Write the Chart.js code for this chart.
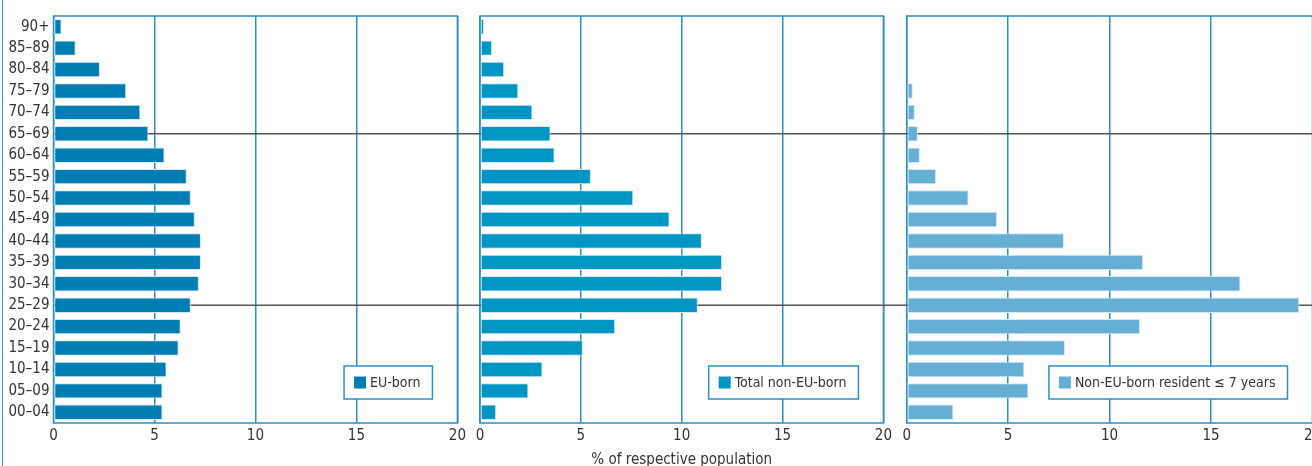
<!DOCTYPE html>
<html>
<head>
<meta charset="utf-8">
<script src="https://cdn.jsdelivr.net/npm/chart.js@4.4.1/dist/chart.umd.min.js"></script>
<style>
  body { margin: 0; background: #fff; overflow: hidden; }
  #wrap { position: relative; width: 1312px; height: 466px; overflow: hidden; }
  #frame { position: absolute; left: 2px; top: 0; bottom: 0; width: 0; border-left: 1.5px solid #2a8fc3; }
  .panel { position: absolute; top: 0; height: 466px; }
</style>
</head>
<body>
<div id="wrap">
  <div id="frame"></div>
  <div class="panel" style="left:0;width:470px"><canvas id="euChart"></canvas></div>
  <div class="panel" style="left:470px;width:426px"><canvas id="nonEuChart"></canvas></div>
  <div class="panel" style="left:896px;width:440px"><canvas id="recentChart"></canvas></div>
</div>
<script>
const ageGroups = ['90+', '85–89', '80–84', '75–79', '70–74', '65–69', '60–64', '55–59', '50–54', '45–49',
                   '40–44', '35–39', '30–34', '25–29', '20–24', '15–19', '10–14', '05–09', '00–04'];
const euBorn = [0.4, 1.1, 2.3, 3.6, 4.3, 4.7, 5.5, 6.6, 6.8, 7.0, 7.3, 7.3, 7.2, 6.8, 6.3, 6.2, 5.6, 5.4, 5.4];
const nonEuBorn = [0.2, 0.6, 1.2, 1.9, 2.6, 3.5, 3.7, 5.5, 7.6, 9.4, 11.0, 12.0, 12.0, 10.8, 6.7, 5.1, 3.1, 2.4, 0.8];
const recentNonEuBorn = [0, 0.05, 0.05, 0.3, 0.4, 0.55, 0.65, 1.45, 3.05, 4.45, 7.75, 11.65, 16.45, 19.35, 11.5, 7.8, 5.8, 6.0, 2.3];
const seriesNames = ['EU-born', 'Total non-EU-born', 'Non-EU-born resident ≤ 7 years'];
const markedGroups = ['65–69', '25–29'];
const xMax = 20;
const xStep = 5;
const axisTitle = '% of respective population';

const FONT = '"Liberation Sans Narrow", "DejaVu Sans Condensed", "Arial Narrow", sans-serif';
const TEXT = '#333333';
const BLUE = '#2a8fc3';

// frame, dark marker lines and the boxed legend inside the plot
const panelDecor = {
    id: 'panelDecor',
    beforeDatasetsDraw(chart, args, opts) {
        const { ctx, chartArea: a, scales: { y } } = chart;
        ctx.save();
        ctx.strokeStyle = BLUE;
        ctx.lineWidth = 1.5;
        ctx.strokeRect(a.left, a.top, a.right - a.left, a.bottom - a.top);
        ctx.strokeStyle = '#555555';
        markedGroups.forEach(g => {
            const py = y.getPixelForValue(ageGroups.indexOf(g));
            ctx.beginPath();
            ctx.moveTo(opts.fromArea ? a.left : 0, py);
            ctx.lineTo(chart.width, py);
            ctx.stroke();
        });
        ctx.restore();
    },
    afterDraw(chart) {
        const { ctx, chartArea: a } = chart;
        const ds = chart.data.datasets[0];
        ctx.save();
        ctx.font = `14px ${FONT}`;
        const tw = ctx.measureText(ds.label).width;
        const w = 10 + 12 + 4 + tw + 12, h = 33;
        const x = a.right - 25 - w, top = a.bottom - 24 - h;
        ctx.fillStyle = '#ffffff';
        ctx.fillRect(x, top, w, h);
        ctx.strokeStyle = BLUE;
        ctx.lineWidth = 1.5;
        ctx.strokeRect(x, top, w, h);
        ctx.fillStyle = ds.backgroundColor;
        ctx.fillRect(x + 10, top + 10.5, 12, 12);
        ctx.fillStyle = TEXT;
        ctx.textBaseline = 'middle';
        ctx.fillText(ds.label, x + 26, top + h / 2 + 0.5);
        ctx.restore();
    },
};

function initPanel(canvasId, label, values, color, cfg) {
    const ctx = document.getElementById(canvasId);
    if (!ctx) return;

    return new Chart(ctx, {
        type: 'bar',
        data: {
            labels: ageGroups,
            datasets: [{
                label,
                data: values,
                backgroundColor: color,
                borderColor: '#d3e9f4',
                borderWidth: 1,
                borderSkipped: false,
                barPercentage: 0.72,
                categoryPercentage: 1,
            }],
        },
        plugins: [panelDecor],
        options: {
            responsive: true,
            maintainAspectRatio: false,
            animation: false,
            indexAxis: 'y',
            layout: { padding: { left: cfg.padLeft, right: cfg.padRight, top: 16, bottom: 0 } },
            plugins: {
                legend: { display: false },
                tooltip: { enabled: false },
                panelDecor: { fromArea: cfg.showAges },
            },
            scales: {
                x: {
                    min: 0,
                    max: xMax,
                    grid: { color: BLUE, lineWidth: 1.5, drawTicks: false },
                    border: { display: false },
                    ticks: { stepSize: xStep, padding: 4, color: TEXT, font: { family: FONT, size: 15 } },
                    title: {
                        display: cfg.showTitle,
                        text: axisTitle,
                        color: TEXT,
                        padding: 0,
                        font: { family: FONT, size: 15, lineHeight: 0.8 },
                    },
                    afterFit: (s) => { s.height = 43; },
                },
                y: {
                    display: cfg.showAges,
                    grid: { display: false, drawTicks: false },
                    border: { display: false },
                    ticks: { autoSkip: false, padding: 4, color: TEXT, font: { family: FONT, size: 15 } },
                    afterFit: (s) => { s.width = cfg.showAges ? 53.5 : 0; },
                },
            },
        },
    });
}

initPanel('euChart', seriesNames[0], euBorn, '#007db3',
    { padLeft: 0, padRight: 10.5, showAges: true, showTitle: false });
initPanel('nonEuChart', seriesNames[1], nonEuBorn, '#0095c3',
    { padLeft: 10, padRight: 10, showAges: false, showTitle: true });
initPanel('recentChart', seriesNames[2], recentNonEuBorn, '#65afd5',
    { padLeft: 10.7, padRight: 23.5, showAges: false, showTitle: false });
</script>
</body>
</html>
